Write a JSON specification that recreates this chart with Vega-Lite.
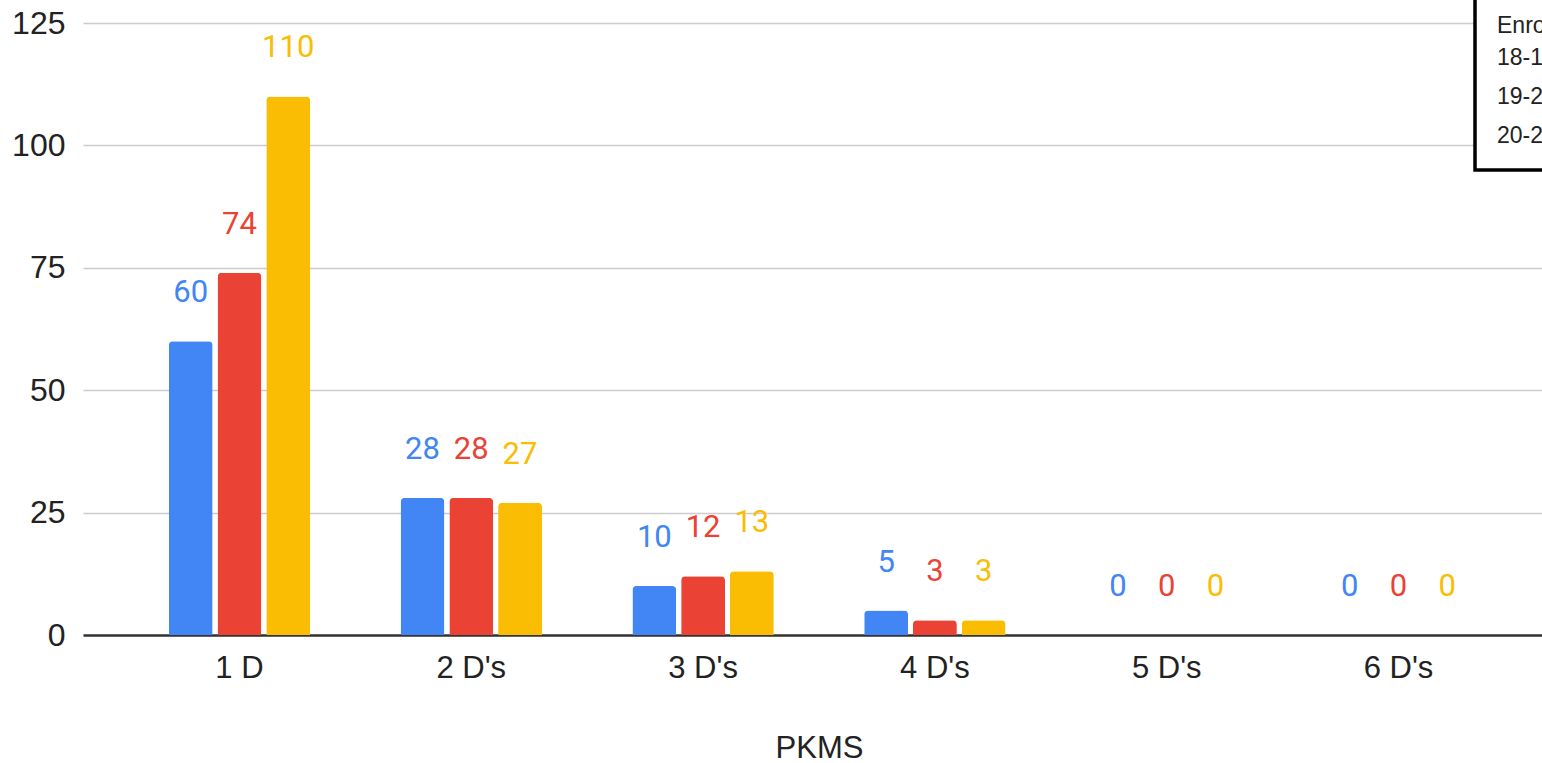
{
  "$schema": "https://vega.github.io/schema/vega-lite/v6.json",
  "autosize": {"type": "none"},
  "padding": {"left": 83, "top": 23, "right": 0, "bottom": 128},
  "width": 1472,
  "height": 612,
  "background": "white",
  "config": {"view": {"stroke": null}, "font": "Liberation Sans", "legend": {"strokeWidth": 3.5}},
  "data": {
    "values": [
      {"category": "1 D", "year": "18-19", "value": 60},
      {"category": "1 D", "year": "19-20", "value": 74},
      {"category": "1 D", "year": "20-21", "value": 110},
      {"category": "2 D's", "year": "18-19", "value": 28},
      {"category": "2 D's", "year": "19-20", "value": 28},
      {"category": "2 D's", "year": "20-21", "value": 27},
      {"category": "3 D's", "year": "18-19", "value": 10},
      {"category": "3 D's", "year": "19-20", "value": 12},
      {"category": "3 D's", "year": "20-21", "value": 13},
      {"category": "4 D's", "year": "18-19", "value": 5},
      {"category": "4 D's", "year": "19-20", "value": 3},
      {"category": "4 D's", "year": "20-21", "value": 3},
      {"category": "5 D's", "year": "18-19", "value": 0},
      {"category": "5 D's", "year": "19-20", "value": 0},
      {"category": "5 D's", "year": "20-21", "value": 0},
      {"category": "6 D's", "year": "18-19", "value": 0},
      {"category": "6 D's", "year": "19-20", "value": 0},
      {"category": "6 D's", "year": "20-21", "value": 0}
    ]
  },
  "encoding": {
    "x": {
      "field": "category",
      "type": "nominal",
      "sort": ["1 D", "2 D's", "3 D's", "4 D's", "5 D's", "6 D's"],
      "scale": {"paddingInner": 0.39, "paddingOuter": 0.37},
      "axis": {
        "title": "PKMS",
        "titleFontSize": 31,
        "titleFontWeight": "normal",
        "titleColor": "#222",
        "titlePadding": 50,
        "labelFontSize": 31,
        "labelColor": "#222",
        "labelAngle": 0,
        "labelPadding": 18,
        "ticks": false,
        "tickSize": 0,
        "domainColor": "#333",
        "domainWidth": 2.5,
        "grid": false
      }
    },
    "xOffset": {"field": "year", "scale": {"paddingInner": 0.1}},
    "y": {
      "field": "value",
      "type": "quantitative",
      "scale": {"domain": [0, 125], "nice": false},
      "axis": {
        "title": null,
        "values": [0, 25, 50, 75, 100, 125],
        "labelFontSize": 32,
        "labelColor": "#222",
        "labelPadding": 18,
        "ticks": false,
        "tickSize": 0,
        "domain": false,
        "gridColor": "#cccccc",
        "gridWidth": 1.5
      }
    },
    "color": {
      "field": "year",
      "type": "nominal",
      "scale": {"domain": ["18-19", "19-20", "20-21"], "range": ["#4285F4", "#EA4335", "#FBBC04"]},
      "legend": {
        "orient": "none",
        "legendX": 1392,
        "legendY": -30,
        "title": "Enrollment",
        "titleFont": "Liberation Sans",
        "titleFontSize": 23,
        "titleFontWeight": "normal",
        "titleColor": "#222",
        "titlePadding": 8,
        "labelFont": "Liberation Sans",
        "labelFontSize": 23,
        "labelColor": "#222",
        "labelOffset": -23,
        "symbolSize": 0,
        "symbolOpacity": 0,
        "symbolStrokeWidth": 0,
        "rowPadding": 15,
        "padding": 22,
        "strokeColor": "#000000",
        "fillColor": "white",
        "cornerRadius": 0
      }
    }
  },
  "layer": [
    {"mark": {"type": "bar", "cornerRadiusTopLeft": 4, "cornerRadiusTopRight": 4}},
    {
      "mark": {"type": "text", "dy": -39, "baseline": "alphabetic", "font": "Roboto", "fontSize": 31},
      "encoding": {"text": {"field": "value", "type": "quantitative"}}
    }
  ]
}
